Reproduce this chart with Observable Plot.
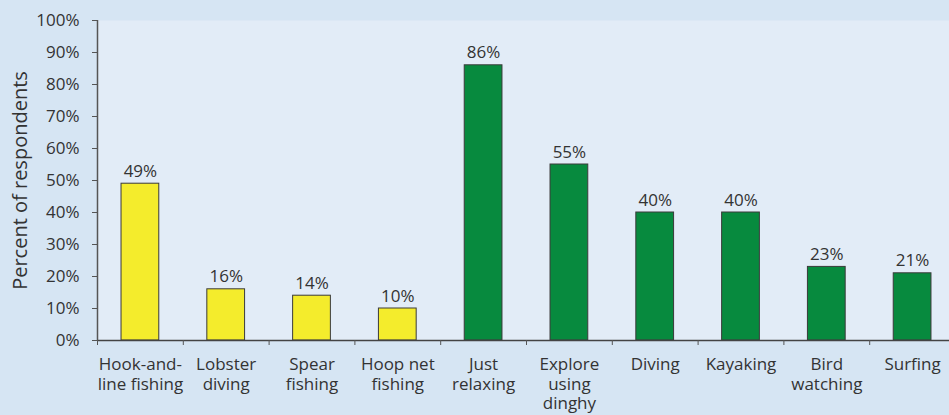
<!DOCTYPE html>
<html>
<head>
<meta charset="utf-8">
<script src="https://cdn.jsdelivr.net/npm/d3@7"></script>
<script src="https://cdn.jsdelivr.net/npm/@observablehq/plot@0.6"></script>
<style>
  html, body { margin: 0; padding: 0; background: #d6e5f3; overflow: hidden; }
  #chart svg { display: block; }
</style>
</head>
<body>
<div id="chart"></div>
<script>
const categories = ["Hook-and-\nline fishing", "Lobster\ndiving", "Spear\nfishing", "Hoop net\nfishing", "Just\nrelaxing", "Explore\nusing\ndinghy", "Diving", "Kayaking", "Bird\nwatching", "Surfing"];
const values = [49, 16, 14, 10, 86, 55, 40, 40, 23, 21];
const groups = ["fishing", "fishing", "fishing", "fishing", "other", "other", "other", "other", "other", "other"];
const yTicks = [0, 10, 20, 30, 40, 50, 60, 70, 80, 90, 100];

const data = categories.map((c, i) => ({category: c, value: values[i], group: groups[i]}));

const W = 949, H = 415, ML = 97, MR = -6;
const step = (W - ML - MR) / categories.length;

const chart = Plot.plot({
  width: W,
  height: H,
  marginLeft: ML,
  marginRight: MR,
  marginTop: 20,
  marginBottom: 75,
  style: {fontFamily: "'Open Sans', sans-serif", fontSize: "17px", color: "#333", background: "#d6e5f3", overflow: "hidden"},
  x: {domain: categories, paddingInner: 0.56, paddingOuter: 0.28, round: false, label: null},
  y: {domain: [0, 100], label: null},
  color: {domain: ["fishing", "other"], range: ["#f4ec2c", "#078a3e"]},
  marks: [
    Plot.frame({fill: "#e2ecf7", stroke: null}),
    Plot.axisY({ticks: yTicks, tickFormat: d => d + "%", tickSize: 5, tickPadding: 13, stroke: "#555", fill: "#333", fontSize: 17, label: null}),
    Plot.text(["Percent of respondents"], {frameAnchor: "left", textAnchor: "middle", rotate: -90, dx: -77, fontSize: 20, fill: "#333"}),
    Plot.axisX({tickSize: 0, tickPadding: 16, fontSize: 17, fill: "#333", lineHeight: 1.15, label: null}),
    Plot.barY(data, {x: "category", y: "value", fill: "group", stroke: "#3a3a3a", strokeWidth: 1}),
    Plot.text(data, {x: "category", y: "value", text: d => d.value + "%", lineAnchor: "bottom", dy: -7, fontSize: 17, fill: "#333"}),
    Plot.ruleY([0], {stroke: "#444", strokeWidth: 1.5}),
    Plot.ruleX(categories, {x: d => d, dx: -step / 2, y1: 0, y2: 0, insetBottom: -5, stroke: "#555"}),
    Plot.ruleX([categories[0]], {x: d => d, dx: -step / 2, y1: 0, y2: 100, stroke: "#555", strokeWidth: 1.5})
  ]
});
document.getElementById("chart").appendChild(chart);
</script>
</body>
</html>
